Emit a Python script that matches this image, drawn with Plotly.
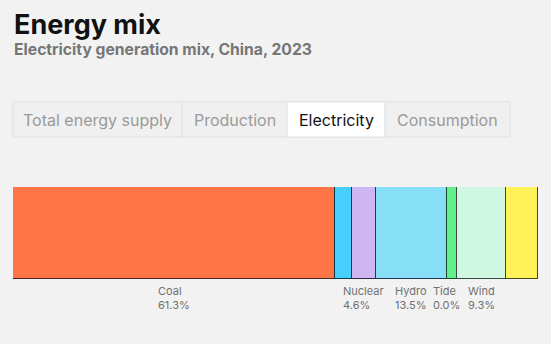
import plotly.graph_objects as go

# Electricity generation mix, China, 2023 (share of total, %)
sources = ["Coal", "Gas", "Nuclear", "Hydro", "Tide", "Bioenergy", "Wind", "Solar"]
shares = [61.3, 3.2, 4.6, 13.5, 0.0, 2.0, 9.3, 6.1]
labelled = ["Coal", "Nuclear", "Hydro", "Tide", "Wind"]

fills = ["#FF7447", "#46CFFC", "#CDB6F2", "#86DFF7", "#3FBFCF", "#62F08C", "#CFF7E1", "#FFF258"]
edges = ["#4A2A1E", "#123848", "#2E2A44", "#1E3A4A", "#123848", "#1A4A2A", "#3A4A44", "#4A4420"]

tabs = ["Total energy supply", "Production", "Electricity", "Consumption"]
active_tab = "Electricity"

W, H = 551, 344
BG = "#F2F2F2"


def px(x):
    return x / W


def py(y):
    return 1 - y / H


fig = go.Figure()
for name, val, fc, ec in zip(sources, shares, fills, edges):
    fig.add_trace(go.Bar(
        y=[0], x=[val], name=name, orientation="h",
        marker=dict(color=fc, line=dict(color=ec, width=1)),
        hoverinfo="skip", showlegend=False,
    ))

annotations = []
# Segment labels centred under each labelled segment
start = 0.0
for name, val in zip(sources, shares):
    if name in labelled:
        annotations.append(dict(
            x=start + val / 2, xref="x", y=py(282), yref="paper",
            text=f"{name}<br>{val:.1f}%", showarrow=False,
            xanchor="center", yanchor="top", align="left",
            font=dict(family="Inter, Roboto, sans-serif", size=11, color="#707070"),
        ))
    start += val

# Title and subtitle
annotations.append(dict(
    x=px(12), y=py(6), xref="paper", yref="paper", text="<b>Energy mix</b>",
    showarrow=False, xanchor="left", yanchor="top",
    font=dict(family="Inter, sans-serif", size=27, color="#111111"),
))
annotations.append(dict(
    x=px(12), y=py(38), xref="paper", yref="paper",
    text="<b>Electricity generation mix, China, 2023</b>",
    showarrow=False, xanchor="left", yanchor="top",
    font=dict(family="Inter, sans-serif", size=15.7, color="#767676"),
))

# Tab strip
tab_edges = [13, 182, 287, 385, 510]
shapes = [dict(type="rect", xref="paper", yref="paper",
               x0=px(tab_edges[0]), x1=px(tab_edges[-1]), y0=py(137), y1=py(102),
               fillcolor="#F0F0F0", line=dict(color="#E2E2E2", width=1), layer="below")]
for i, t in enumerate(tabs):
    x0, x1 = tab_edges[i], tab_edges[i + 1]
    on = t == active_tab
    shapes.append(dict(type="rect", xref="paper", yref="paper",
                       x0=px(x0), x1=px(x1), y0=py(137), y1=py(102),
                       fillcolor="#FFFFFF" if on else "#F0F0F0",
                       line=dict(color="#E2E2E2", width=1), layer="below"))
    annotations.append(dict(
        x=px((x0 + x1) / 2), y=py(119.5), xref="paper", yref="paper", text=t,
        showarrow=False, xanchor="center", yanchor="middle",
        font=dict(family="Inter, sans-serif", size=16,
                  color="#111111" if on else "#9A9A9A"),
    ))

fig.update_layout(
    width=W, height=H,
    margin=dict(l=0, r=0, t=0, b=0),
    paper_bgcolor=BG, plot_bgcolor=BG,
    barmode="stack", bargap=0,
    xaxis=dict(domain=[px(13), px(538)], range=[0, 100], visible=False, fixedrange=True),
    yaxis=dict(domain=[py(279), py(187)], range=[-0.5, 0.5], visible=False, fixedrange=True),
    annotations=annotations, shapes=shapes,
)

fig.write_html("out.html")
